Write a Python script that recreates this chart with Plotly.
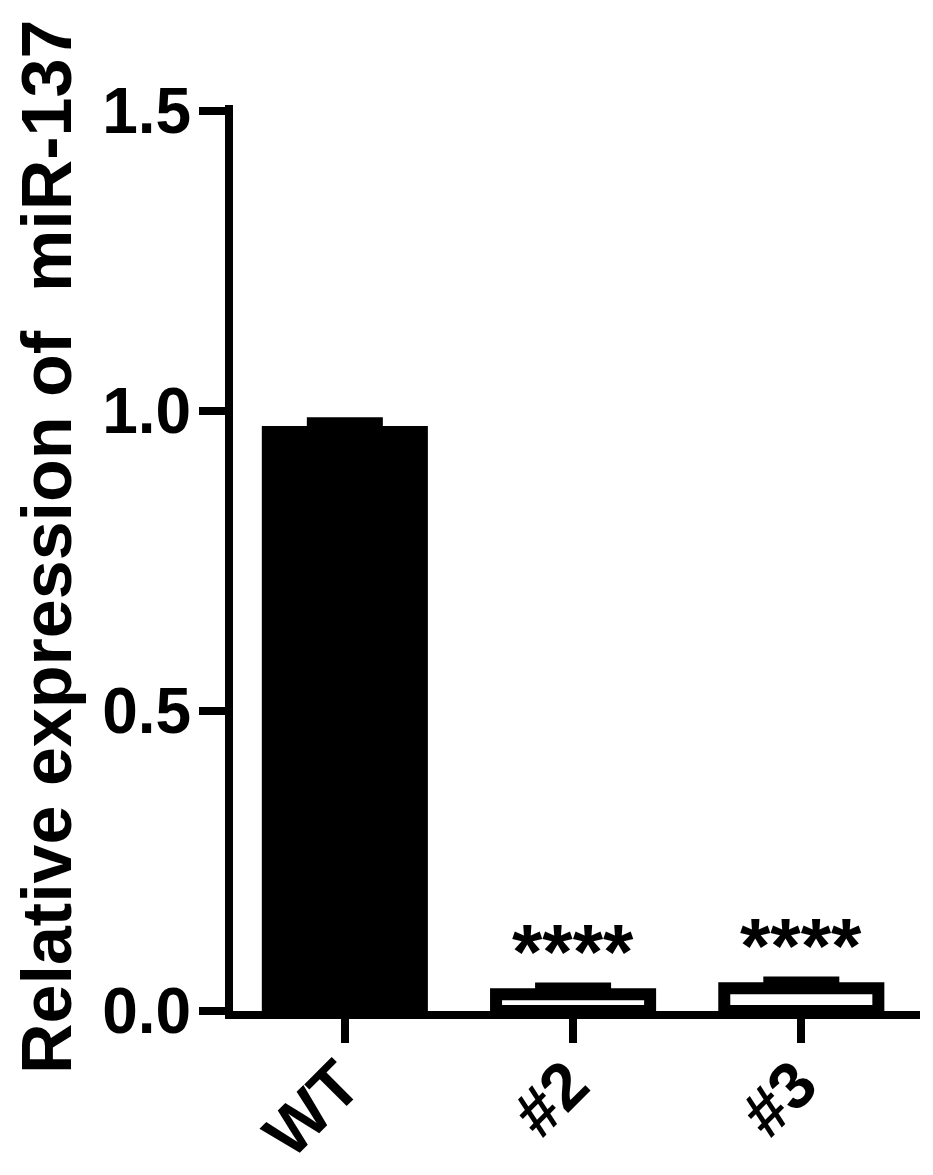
import plotly.graph_objects as go

groups = ["WT", "#2", "#3"]
expression = [0.965, 0.028, 0.038]
sem = [0.017, 0.012, 0.012]
stars = ["", "****", "****"]
y_ticks = [0.0, 0.5, 1.0, 1.5]
y_title = "Relative expression of\u00a0 miR-137"

fill = ["black", "white", "white"]
font = "Liberation Sans"

fig = go.Figure()
fig.add_trace(go.Bar(
    x=groups, y=expression, width=0.675,
    marker=dict(color=fill, line=dict(color="black", width=12)),
    error_y=dict(type="data", symmetric=False, array=sem,
                 arrayminus=[0] * len(sem), color="black",
                 thickness=9, width=38),
))

for g, v, e, s in zip(groups, expression, sem, stars):
    if s:
        fig.add_annotation(x=g, y=v + e, text=f"<b>{s}</b>", showarrow=False,
                           yanchor="bottom", yshift=-11,
                           font=dict(family=font, size=78, color="black"))

# y title as an annotation so it can sit a bit above the axis centre
fig.add_annotation(xref="paper", yref="paper", x=0, y=0.5, xshift=-186, yshift=11,
                   text=f"<b>{y_title}</b>", textangle=-90, showarrow=False,
                   xanchor="center", yanchor="middle",
                   font=dict(family=font, size=70, color="black"))

fig.update_layout(
    width=933, height=1175,
    margin=dict(l=225, r=21, t=97, b=172),
    plot_bgcolor="white", paper_bgcolor="white",
    showlegend=False,
    font=dict(family=font, color="black"),
)
fig.update_xaxes(
    range=[-0.49, 2.52], showline=True, linewidth=8, linecolor="black",
    ticks="outside", ticklen=24, tickwidth=8, tickcolor="black",
    tickangle=-45, tickfont=dict(size=66, family=font, weight="bold"),
    ticklabelshift=-4, ticklabelstandoff=-24,
    showgrid=False, automargin=False,
)
fig.update_yaxes(
    range=[0, 1.51], tickvals=y_ticks, tickformat=".1f",
    showline=True, linewidth=8, linecolor="black",
    ticks="outside", ticklen=26, tickwidth=8, tickcolor="black",
    tickfont=dict(size=64, family=font, weight="bold"),
    ticklabelstandoff=-5,
    showgrid=False, zeroline=False, automargin=False,
)

fig.write_html("out.html")
